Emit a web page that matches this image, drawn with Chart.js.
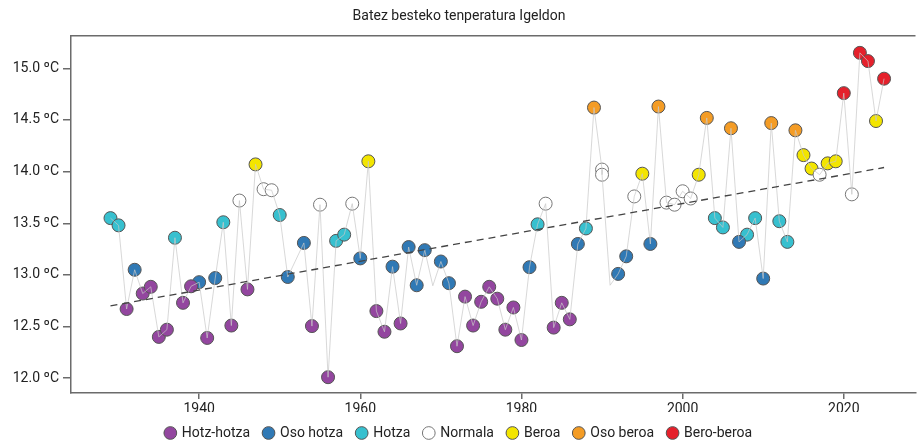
<!DOCTYPE html>
<html>
<head>
<meta charset="utf-8">
<script src="https://cdn.jsdelivr.net/npm/chart.js@4.4.1/dist/chart.umd.min.js"></script>
<style>
  html, body { margin: 0; padding: 0; background: #fff; }
  #wrap { width: 923px; height: 441px; }
</style>
</head>
<body>
<div id="wrap"><canvas id="c" width="923" height="441"></canvas></div>
<script>
// urteak, batez besteko tenperatura eta klasea (null = markatzailerik gabe)
const years = [1929,1930,1931,1932,1933,1934,1935,1936,1937,1938,1939,1940,1941,1942,1943,1944,1945,1946,1947,1948,1949,1950,1951,
  1953,1954,1955,1956,1957,1958,1959,1960,1961,1962,1963,1964,1965,1966,1967,1968,1969,1970,1971,1972,1973,1974,1975,1976,1977,1978,1979,1980,
  1981,1982,1983,1984,1985,1986,1987,1988,1989,1990,1990,1991,1992,1993,1994,1995,1996,1997,1998,1999,2000,
  2001,2002,2003,2004,2005,2006,2007,2008,2009,2010,2011,2012,2013,2014,2015,2016,2017,2018,2019,2020,2021,2022,2023,2024,2025];
const temps = [13.55,13.48,12.67,13.05,12.82,12.885,12.40,12.47,13.36,12.73,12.89,12.93,12.39,12.97,13.51,12.51,13.72,12.86,14.07,13.83,13.82,13.58,12.98,
  13.31,12.505,13.68,12.01,13.33,13.39,13.69,13.16,14.10,12.65,12.45,13.08,12.53,13.27,12.90,13.24,12.895,13.13,12.92,12.31,12.79,12.51,12.74,12.885,12.77,12.47,12.685,12.37,
  13.075,13.49,13.69,12.49,12.73,12.57,13.30,13.45,14.62,14.02,13.97,12.90,13.01,13.18,13.76,13.98,13.30,14.63,13.70,13.68,13.81,
  13.74,13.97,14.52,13.55,13.46,14.42,13.32,13.39,13.55,12.965,14.47,13.52,13.32,14.40,14.16,14.03,13.97,14.08,14.10,14.76,13.78,15.15,15.07,14.49,14.90];
const classes = [2,2,0,1,0,0,0,0,2,0,0,1,0,1,2,0,3,0,4,3,3,2,1,
  1,0,3,0,2,2,3,1,4,0,0,1,0,1,1,1,null,1,1,0,0,0,0,0,0,0,0,0,
  1,2,3,0,0,0,1,2,5,3,3,null,1,1,3,4,1,5,3,3,3,
  3,4,5,2,2,5,1,2,2,1,5,2,2,5,4,4,3,4,4,6,3,6,6,4,6];
const classNames = ['Hotz-hotza', 'Oso hotza', 'Hotza', 'Normala', 'Beroa', 'Oso beroa', 'Bero-beroa'];
const classColors = ['#93469f', '#3079b5', '#37c0cf', '#ffffff', '#f3e500', '#f49c25', '#e5202b'];
const trendYears = [1929, 2025];
const trendValues = [12.70, 14.04];
const xTicks = [1940, 1960, 1980, 2000, 2020];
const yTicks = [12.0, 12.5, 13.0, 13.5, 14.0, 14.5, 15.0];

const FONT = "'Liberation Sans Narrow', 'Roboto', sans-serif";
const AXIS = '#6b6b6b';

const classSets = classNames.map((name, k) => ({
  type: 'scatter',
  label: name,
  data: years.map((y, i) => classes[i] === k ? { x: y, y: temps[i] } : null).filter(p => p),
  backgroundColor: classColors[k],
  borderColor: k === 3 ? '#777' : '#555',
  borderWidth: 1,
  pointRadius: 6.5,
  pointHoverRadius: 6.5,
  order: 3
}));

// goiko ertza marrazteko + legendaren altuera finkoa
const extras = {
  id: 'extras',
  beforeLayout(chart) {
    const lg = chart.legend;
    if (lg && !lg._patched) {
      const fit = lg.fit;
      lg.fit = function () { fit.call(this); this.height = 29; };
      lg._patched = true;
    }
  },
  afterDraw(chart) {
    const { ctx, chartArea } = chart;
    ctx.save();
    ctx.strokeStyle = AXIS;
    ctx.lineWidth = 1.5;
    ctx.beginPath();
    ctx.moveTo(chartArea.left, chartArea.top);
    ctx.lineTo(chartArea.right, chartArea.top);
    ctx.stroke();
    ctx.restore();
  }
};

new Chart(document.getElementById('c'), {
  type: 'scatter',
  data: {
    datasets: [
      ...classSets,
      {
        type: 'line',
        label: 'serie',
        data: years.map((y, i) => ({ x: y, y: temps[i] })),
        borderColor: 'rgba(200,200,200,0.7)',
        borderWidth: 1,
        pointRadius: 0,
        fill: false,
        tension: 0,
        order: 2
      },
      {
        type: 'line',
        label: 'joera',
        data: trendYears.map((y, i) => ({ x: y, y: trendValues[i] })),
        borderColor: '#444',
        borderWidth: 1.3,
        borderDash: [7, 5],
        pointRadius: 0,
        fill: false,
        order: 1
      }
    ]
  },
  options: {
    responsive: false,
    animation: false,
    layout: { padding: { left: 0, right: 5, top: 0, bottom: 0 } },
    plugins: {
      title: {
        display: true,
        text: 'Batez besteko tenperatura Igeldon',
        color: '#222',
        font: { family: FONT, size: 14, weight: 'normal' },
        padding: { top: 8, bottom: 11 }
      },
      legend: {
        display: true,
        position: 'bottom',
        labels: {
          filter: (item) => item.datasetIndex < classNames.length,
          usePointStyle: true,
          pointStyle: 'circle',
          boxWidth: 9,
          boxHeight: 9,
          padding: 14,
          color: '#222',
          font: { family: FONT, size: 14 }
        }
      },
      tooltip: { enabled: false }
    },
    scales: {
      x: {
        type: 'linear',
        min: 1924.1,
        max: 2028.9,
        afterBuildTicks: (s) => { s.ticks = xTicks.map(v => ({ value: v })); },
        afterFit: (s) => { s.height = 19; },
        ticks: {
          color: '#222',
          font: { family: FONT, size: 14 },
          padding: 2,
          maxRotation: 0,
          callback: (v) => String(v)
        },
        grid: { drawOnChartArea: false, drawTicks: true, tickLength: 6, color: AXIS, lineWidth: 1.5 },
        border: { display: true, color: AXIS, width: 1.5 }
      },
      y: {
        type: 'linear',
        min: 11.857,
        max: 15.315,
        afterBuildTicks: (s) => { s.ticks = yTicks.map(v => ({ value: v })); },
        afterFit: (s) => { s.width = 71; },
        ticks: {
          color: '#222',
          font: { family: FONT, size: 14 },
          padding: 4,
          callback: (v) => v.toFixed(1) + ' ºC'
        },
        grid: { drawOnChartArea: false, drawTicks: true, tickLength: 8, color: AXIS, lineWidth: 1.5 },
        border: { display: true, color: AXIS, width: 1.5 }
      }
    }
  },
  plugins: [extras]
});
</script>
</body>
</html>
